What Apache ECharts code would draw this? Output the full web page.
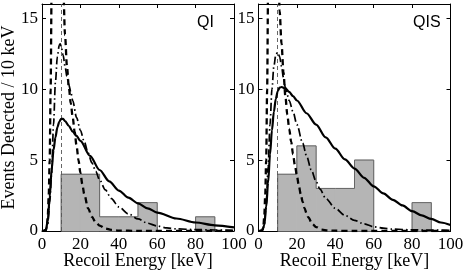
<!DOCTYPE html>
<html><head><meta charset="utf-8">
<script src="https://cdn.jsdelivr.net/npm/echarts@6/dist/echarts.min.js"></script>
<style>html,body{margin:0;padding:0;background:#fff}#c{width:467px;height:271px}</style>
</head><body><div id="c"></div>
<script>
// ---- data ----
const binStarts = [10, 20, 30, 40, 50, 60, 70, 80, 90];
const binWidth = 10;
const qiCounts  = [4, 4, 1, 1, 2, 0, 0, 1, 0];
const qisCounts = [4, 6, 3, 3, 5, 0, 0, 2, 0];
const threshold = 10;

const qiSolidE = [0,1,2,3,4,5,6,7,8,9,10,11,12,14,16,18,20,25,30,35,40,45,50,55,60,70,80,90,100];
const qiSolidV = [0,0,0.1,0.7,2.4,4.3,5.7,6.6,7.3,7.7,7.9,7.9,7.75,7.4,7.0,6.7,6.35,5.3,4.3,3.5,2.85,2.35,1.95,1.6,1.3,0.88,0.6,0.4,0.25];
const qiDashE = [0,2,2.5,3,3.5,4,4.5,5,6,8,10,11,12,13,14,15,16,17,18,19,20,21,22,24,26,28,30,33,36,40,50,100];
const qiDashV = [0,0.05,0.3,1,2.5,5,10,17,26,32,24,17.5,13.8,11.6,10.1,9.0,8.0,7.0,6.0,5.0,4.1,3.3,2.6,1.6,1.0,0.6,0.38,0.18,0.08,0.03,0.01,0];
const qiDashDotE = [0,2,3,4,5,6,7,8,9,9.5,10,11,12,13,14,15,16,18,20,22,24,26,28,30,33,36,40,45,50,55,60,65,70,80,90,100];
const qiDashDotV = [0,0.05,0.5,2,4,7.5,10.5,12.3,13.1,13.2,13,12.4,11.6,10.9,10.3,9.8,9.2,8.0,7.1,6.3,5.5,4.8,4.2,3.6,2.9,2.3,1.7,1.2,0.85,0.55,0.35,0.22,0.15,0.1,0.07,0.05];

const qisSolidE = [0,1,2,3,4,5,6,7,8,9,10,11,12,14,16,18,20,25,30,35,40,45,50,55,60,65,70,75,80,85,90,95,100];
const qisSolidV = [0,0,0.05,0.4,1.7,3.4,5.4,7.1,8.4,9.3,9.85,10.1,10.15,10.05,9.8,9.5,9.2,8.3,7.5,6.6,5.8,5.05,4.4,3.75,3.15,2.65,2.2,1.8,1.4,1.1,0.85,0.6,0.42];
const qisDashE = [0,2,2.5,3,3.5,4,4.5,5,6,8,10,11,12,13,14,15,16,17,18,19,20,21,22,23,24,25,26,28,30,33,36,40,50,100];
const qisDashV = [0,0.05,0.3,1,2.5,5,10,17,26,32,22,15.5,13.2,11.2,9.5,8.2,7.2,6.3,5.4,4.6,3.9,3.2,2.6,2.05,1.6,1.25,0.95,0.5,0.28,0.1,0.04,0.02,0,0];
const qisDashDotE = [0,2,3,4,5,6,7,8,9,10,11,12,13,14,16,18,20,23,25,27.5,30,32,35,40,45,50,55,60,65,70,80,90,100];
const qisDashDotV = [0,0.05,0.4,1.8,4.5,7.5,10,11.6,12.4,12.6,12.3,11.6,10.8,10.1,9.2,8.4,7.5,6.2,5.3,4.3,3.5,2.95,2.3,1.6,1.1,0.75,0.5,0.3,0.2,0.13,0.08,0.06,0.05];

const xTicks = [0, 20, 40, 60, 80, 100];
const yTicks = [0, 5, 10, 15];
const panelNames = ['QI', 'QIS'];

// ---- helpers ----
const zip = (a, b) => a.map((x, i) => [x, b[i]]);
function outline(starts, w, vals) {
  const pts = [];
  for (let i = 0; i < starts.length; i++) {
    const v = vals[i]; if (!v) continue;
    const s = starts[i], e = s + w;
    const prev = (i > 0 && starts[i-1] + w === s) ? vals[i-1] : 0;
    const next = (i < starts.length - 1 && starts[i+1] === e) ? vals[i+1] : 0;
    if (!prev) { if (pts.length) pts.push([s, '-']); pts.push([s, 0]); }
    pts.push([s, v]); pts.push([e, v]);
    if (!next) pts.push([e, 0]);
  }
  return pts;
}
const serif = 'Liberation Serif';
const histFill = '#b5b5b5';
const grids = [
  {left: 42, top: 4, width: 192, height: 227, outerBoundsMode: 'none', containLabel: false},
  {left: 258.5, top: 4, width: 192, height: 227, outerBoundsMode: 'none', containLabel: false}
];
const xAxes = [], yAxes = [], series = [];
const tickFmt = (list) => (v) => list.indexOf(v) >= 0 ? String(v) : '';
grids.forEach((g, gi) => {
  xAxes.push({type:'value', gridIndex: gi, min: 0, max: 100, interval: 20, position:'bottom',
    axisLine:{show:true, onZero:false, lineStyle:{color:'#000', width:1}},
    axisTick:{show:true, inside:true, length:4, lineStyle:{color:'#000'}},
    axisLabel:{show:true, margin:5, fontFamily: serif, fontSize: 17, color:'#000', formatter: tickFmt(xTicks)},
    splitLine:{show:false},
    name:'Recoil Energy [keV]', nameLocation:'middle', nameGap: 21, nameMoveOverlap: false,
    nameTextStyle:{fontFamily: serif, fontSize: 18, color:'#000'}});
  xAxes.push({type:'value', gridIndex: gi, min: 0, max: 100, interval: 20, position:'top',
    axisLine:{show:true, onZero:false, lineStyle:{color:'#000', width:1}},
    axisTick:{show:true, inside:true, length:4, lineStyle:{color:'#000'}},
    axisLabel:{show:false}, splitLine:{show:false}});
  const yl = {type:'value', gridIndex: gi, min: 0, max: 16, interval: 5, position:'left',
    axisLine:{show:true, onZero:false, lineStyle:{color:'#000', width:1}},
    axisTick:{show:true, inside:true, length:4, lineStyle:{color:'#000'}},
    axisLabel:{show:true, margin:4, fontFamily: serif, fontSize: 17, color:'#000', formatter: tickFmt(yTicks)},
    splitLine:{show:false}};
  if (gi === 0) Object.assign(yl, {name:'Events Detected / 10 keV', nameLocation:'middle', nameGap: 24, nameMoveOverlap: false,
    nameTextStyle:{fontFamily: serif, fontSize: 18, color:'#000'}});
  yAxes.push(yl);
  yAxes.push({type:'value', gridIndex: gi, min: 0, max: 16, interval: 5, position:'right',
    axisLine:{show:true, onZero:false, lineStyle:{color:'#000', width:1}},
    axisTick:{show:true, inside:true, length:4, lineStyle:{color:'#000'}},
    axisLabel:{show:false}, splitLine:{show:false}});
});

const panels = [
  {counts: qiCounts, solid: zip(qiSolidE, qiSolidV), dash: zip(qiDashE, qiDashV), dd: zip(qiDashDotE, qiDashDotV)},
  {counts: qisCounts, solid: zip(qisSolidE, qisSolidV), dash: zip(qisDashE, qisDashV), dd: zip(qisDashDotE, qisDashDotV)}
];
panels.forEach((p, pi) => {
  const xi = pi * 2, yi = pi * 2;
  series.push({type:'custom', xAxisIndex: xi, yAxisIndex: yi, z: 1, silent: true,
    data: binStarts.map((s, i) => [s, s + binWidth, p.counts[i]]).filter(d => d[2] > 0),
    encode:{x:[0,1], y:2},
    renderItem: (params, api) => {
      const a = api.coord([api.value(0), api.value(2)]);
      const b = api.coord([api.value(1), 0]);
      return {type:'rect', shape:{x:a[0], y:a[1], width:b[0]-a[0], height:b[1]-a[1]},
        style:{fill: histFill, stroke: histFill, lineWidth: 1}};
    }});
  series.push({type:'line', xAxisIndex: xi, yAxisIndex: yi, z: 2, silent: true, symbol:'none',
    data: outline(binStarts, binWidth, p.counts), connectNulls:false,
    lineStyle:{color:'#666', width:1},
    markLine:{silent:true, symbol:'none', label:{show:false},
      lineStyle:{color:'#555', width:0.9, type:[4,3]}, data:[{xAxis: threshold}]}});
  series.push({type:'line', xAxisIndex: xi, yAxisIndex: yi, z: 3, silent: true, symbol:'none', smooth:0.3, smoothMonotone:'x',
    data: p.dd, lineStyle:{color:'#000', width:1.7, type:[8,3,1.5,3]}});
  series.push({type:'line', xAxisIndex: xi, yAxisIndex: yi, z: 4, silent: true, symbol:'none', smooth:0.3, smoothMonotone:'x',
    data: p.dash, lineStyle:{color:'#000', width:2.3, type:[6,4]}});
  series.push({type:'line', xAxisIndex: xi, yAxisIndex: yi, z: 5, silent: true, symbol:'none', smooth:0.3, smoothMonotone:'x',
    data: p.solid, lineStyle:{color:'#000', width:2.2}});
});

const chart = echarts.init(document.getElementById('c'), null, {renderer:'canvas'});
chart.setOption({
  animation: false,
  backgroundColor: '#fff',
  grid: grids,
  xAxis: xAxes,
  yAxis: yAxes,
  series: series,
  graphic: [
    {type:'text', left: 197, top: 15, style:{text: panelNames[0], font:'16px "Liberation Sans"', fill:'#000'}},
    {type:'text', left: 413, top: 15, style:{text: panelNames[1], font:'16px "Liberation Sans"', fill:'#000'}}
  ]
});
</script></body></html>
